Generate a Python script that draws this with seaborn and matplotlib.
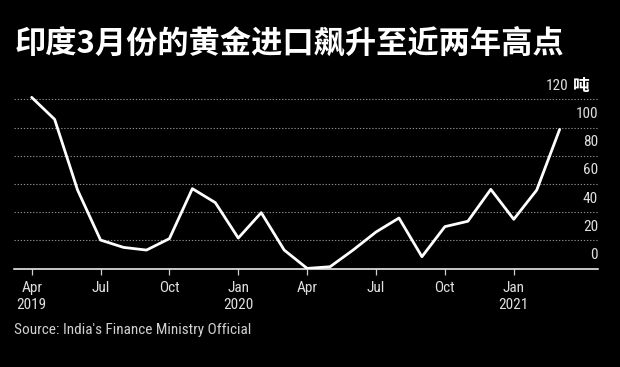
import matplotlib
matplotlib.use("Agg")
import matplotlib.pyplot as plt
import matplotlib.transforms as mtransforms
from matplotlib import font_manager
import seaborn as sns
import pandas as pd

# monthly imports, Apr 2019 .. Mar 2021 (tonnes)
months = list(range(24))
imports = [121.4, 105.8, 55.7, 20.3, 15.1, 13.2, 21.3, 56.7, 46.8, 21.7, 39.7, 13.2,
           0.2, 1.4, 13.2, 26.0, 35.9, 8.5, 29.8, 33.6, 56.2, 35.0, 55.7, 98.7]
tick_pos = [0, 3, 6, 9, 12, 15, 18, 21]
tick_labels = ["Apr\n2019", "Jul", "Oct", "Jan\n2020", "Apr", "Jul", "Oct", "Jan\n2021"]
y_values = [0, 20, 40, 60, 80, 100]
title = "印度3月份的黄金进口飙升至近两年高点"
source = "Source: India's Finance Ministry Official"


def pick_font(names):
    for name in names:
        try:
            font_manager.findfont(name, fallback_to_default=False)
            return name
        except Exception:
            continue
    return "DejaVu Sans"


sns.set_style("dark")
narrow = pick_font(["Liberation Sans Narrow", "DejaVu Sans Condensed", "Roboto Condensed", "Liberation Sans"])
plt.rcParams["font.family"] = [narrow, "Noto Sans CJK SC", "DejaVu Sans"]

df = pd.DataFrame({"month": months, "tonnes": imports})

fig = plt.figure(figsize=(6.2, 3.67), dpi=100, facecolor="black")
ax = fig.add_axes([14 / 620, 1 - 268.7 / 367, (598 - 14) / 620, (268.7 - 85.2) / 367])
ax.set_facecolor("black")

sns.lineplot(data=df, x="month", y="tonnes", color="white", linewidth=2.0, ax=ax)

ax.set_xlim(-0.77, 24.67)
ax.set_ylim(0, 130)
ax.set_xlabel("")
ax.set_ylabel("")

ax.set_yticks([20, 40, 60, 80, 100, 120])
ax.set_yticklabels([])
ax.tick_params(axis="y", length=0)
ax.grid(False)
ax.yaxis.grid(True, color="#8a8a8a", linestyle=(0, (1.2, 1.6)), linewidth=0.8)
ax.xaxis.grid(False)

ax.set_xticks(tick_pos)
ax.set_xticklabels(tick_labels, color="#e0e0e0", fontsize=11, linespacing=1.3)
ax.tick_params(axis="x", length=4, width=0.9, color="#cfcfcf", pad=4.5, bottom=True)

for side in ["top", "left", "right"]:
    ax.spines[side].set_visible(False)
ax.spines["bottom"].set_visible(True)
ax.spines["bottom"].set_color("white")
ax.spines["bottom"].set_linewidth(1.1)

# value labels sit just above their gridline, right-aligned
trans = mtransforms.blended_transform_factory(ax.transAxes, ax.transData)
for v in y_values:
    ax.text(1.0, v + 9.7, str(v), transform=trans, ha="right", va="center",
            color="#e0e0e0", fontsize=11)
fig.text(568 / 620, 1 - 86 / 367, "120", ha="right", va="center", color="#e0e0e0", fontsize=11)
fig.text(573 / 620, 1 - 86 / 367, "吨", ha="left", va="center", color="white",
         fontsize=12, fontweight="bold", family=["Noto Sans CJK SC", "DejaVu Sans"])

fig.text(15 / 620, 1 - 44 / 367, title, ha="left", va="center", color="white",
         fontsize=22.5, fontweight="bold", family=["Noto Sans CJK SC", "DejaVu Sans"])
fig.text(14 / 620, 1 - 330 / 367, source, ha="left", va="center", color="#d0d0d0", fontsize=11)

fig.savefig("out.png", dpi=100, facecolor="black")
plt.close(fig)
